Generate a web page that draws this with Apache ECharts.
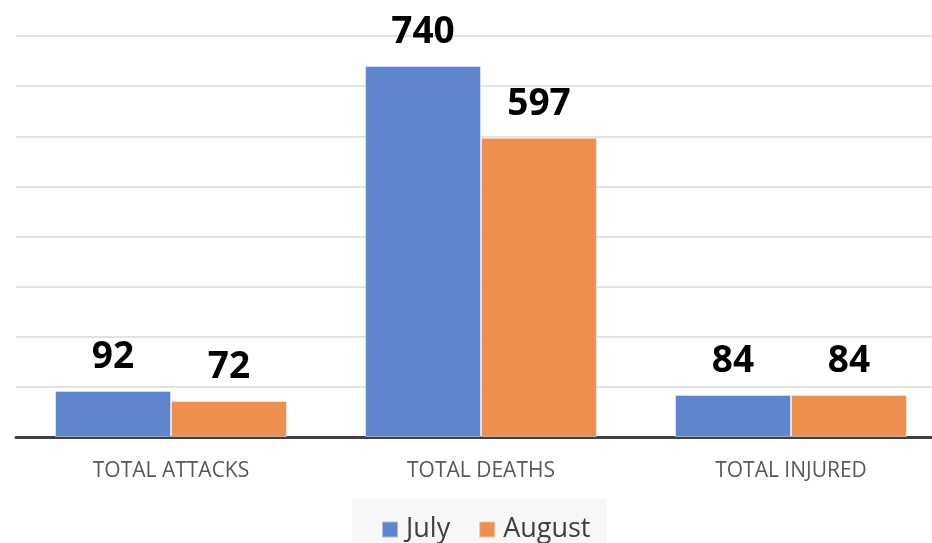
<!DOCTYPE html>
<html>
<head>
<meta charset="utf-8">
<script src="https://cdn.jsdelivr.net/npm/echarts@6/dist/echarts.min.js"></script>
<style>
	html, body { margin: 0; padding: 0; background: #fff; overflow: hidden; width: 932px; height: 543px; }
	#chart { width: 946px; height: 543px; }
</style>
</head>
<body>
<div id="chart"></div>
<script>
var categories = ['TOTAL ATTACKS', 'TOTAL DEATHS', 'TOTAL INJURED'];
var julyData = [92, 740, 84];
var augustData = [72, 597, 84];
var seriesNames = ['July', 'August'];

// the plot area runs past the right edge of the picture, so the div is a bit wider than the window
var chart = echarts.init(document.getElementById('chart'));

function barSeries(name, data, color) {
	return {
		name: name,
		type: 'bar',
		data: data,
		barWidth: '37.4%',
		barGap: '0%',
		itemStyle: {
			color: color,
			borderColor: 'rgba(255,255,255,0.45)',
			borderWidth: 1
		},
		label: {
			show: true,
			position: 'top',
			distance: 15,
			color: '#000',
			fontFamily: 'Open Sans',
			fontWeight: 'bold',
			fontSize: 37
		}
	};
}

var option = {
	animation: false,
	textStyle: { fontFamily: 'Open Sans' },
	grid: {
		left: 16,
		right: 0,
		top: 36,
		bottom: 106,
		containLabel: false
	},
	legend: {
		data: seriesNames,
		top: 499,
		left: 352,
		icon: 'rect',
		itemWidth: 16,
		itemHeight: 16,
		itemGap: 28,
		padding: [17, 16, 8, 29],
		backgroundColor: '#f7f7f7',
		textStyle: {
			color: '#404040',
			fontSize: 27,
			fontFamily: 'Open Sans',
			padding: [0, 0, 0, 3]
		}
	},
	xAxis: {
		type: 'category',
		data: categories,
		axisTick: { show: false },
		axisLine: { lineStyle: { color: '#404040', width: 3 } },
		axisLabel: {
			color: '#595959',
			fontSize: 21,
			margin: 24
		}
	},
	yAxis: {
		type: 'value',
		min: 0,
		max: 800,
		interval: 100,
		axisLabel: { show: false },
		axisLine: { show: false },
		axisTick: { show: false },
		splitLine: { lineStyle: { color: '#d9d9d9', width: 1.5 } }
	},
	series: [
		barSeries(seriesNames[0], julyData, '#5E86CE'),
		barSeries(seriesNames[1], augustData, '#EF8F4F')
	]
};

chart.setOption(option);
</script>
</body>
</html>
